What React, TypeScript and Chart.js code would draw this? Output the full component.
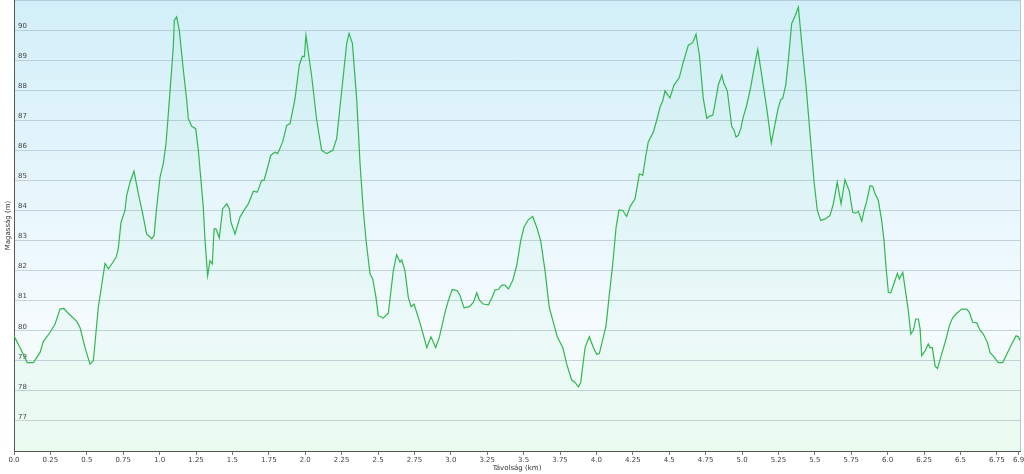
import React, { useEffect, useRef } from "react";
import { Chart, registerables } from "chart.js";

Chart.register(...registerables);

const distanceKm = [
  0.0, 0.041, 0.091, 0.133, 0.179, 0.201, 0.247, 0.282, 0.316, 0.343, 0.373, 0.431, 0.453, 0.488, 0.522, 0.545,
  0.579, 0.625, 0.648, 0.671, 0.701, 0.716, 0.735, 0.762, 0.774, 0.797, 0.824, 0.854, 0.884, 0.911, 0.946, 0.962,
  0.98, 1.003, 1.025, 1.044, 1.067, 1.094, 1.101, 1.117, 1.135, 1.163, 1.186, 1.197, 1.22, 1.248, 1.266, 1.3,
  1.312, 1.33, 1.346, 1.362, 1.374, 1.387, 1.41, 1.433, 1.461, 1.479, 1.49, 1.518, 1.552, 1.587, 1.609, 1.644,
  1.671, 1.701, 1.717, 1.736, 1.763, 1.793, 1.811, 1.845, 1.873, 1.896, 1.93, 1.959, 1.98, 1.994, 2.005, 2.045,
  2.079, 2.113, 2.148, 2.189, 2.216, 2.251, 2.285, 2.301, 2.324, 2.354, 2.376, 2.399, 2.418, 2.445, 2.464, 2.486,
  2.502, 2.536, 2.571, 2.605, 2.628, 2.651, 2.663, 2.685, 2.708, 2.727, 2.747, 2.773, 2.8, 2.835, 2.864, 2.896,
  2.921, 2.96, 2.983, 3.01, 3.045, 3.063, 3.091, 3.127, 3.155, 3.178, 3.196, 3.223, 3.258, 3.281, 3.304, 3.326,
  3.35, 3.372, 3.395, 3.425, 3.453, 3.48, 3.503, 3.532, 3.562, 3.59, 3.617, 3.647, 3.676, 3.704, 3.731, 3.769,
  3.796, 3.83, 3.853, 3.876, 3.892, 3.922, 3.951, 3.979, 4.002, 4.02, 4.047, 4.066, 4.089, 4.112, 4.135, 4.155,
  4.181, 4.208, 4.231, 4.265, 4.295, 4.318, 4.334, 4.356, 4.391, 4.414, 4.437, 4.455, 4.471, 4.505, 4.533, 4.569,
  4.597, 4.631, 4.661, 4.684, 4.707, 4.734, 4.758, 4.775, 4.799, 4.815, 4.837, 4.861, 4.876, 4.899, 4.929, 4.945,
  4.959, 4.975, 4.991, 5.009, 5.032, 5.06, 5.082, 5.108, 5.135, 5.17, 5.201, 5.227, 5.249, 5.266, 5.279, 5.3,
  5.318, 5.341, 5.364, 5.387, 5.41, 5.44, 5.467, 5.495, 5.517, 5.54, 5.57, 5.604, 5.627, 5.654, 5.68, 5.707,
  5.737, 5.76, 5.781, 5.799, 5.822, 5.838, 5.856, 5.879, 5.898, 5.913, 5.936, 5.959, 5.975, 5.989, 6.005, 6.021,
  6.044, 6.067, 6.08, 6.104, 6.126, 6.142, 6.159, 6.177, 6.193, 6.211, 6.223, 6.234, 6.257, 6.279, 6.291, 6.307,
  6.326, 6.342, 6.371, 6.401, 6.424, 6.447, 6.475, 6.509, 6.543, 6.561, 6.584, 6.612, 6.635, 6.657, 6.685, 6.703,
  6.73, 6.76, 6.79, 6.818, 6.852, 6.882, 6.898, 6.909,
];

const elevationM = [
  79.83, 79.44, 78.94, 78.94, 79.28, 79.64, 79.94, 80.22, 80.72, 80.74, 80.58, 80.31, 80.11, 79.44, 78.89, 79.0,
  80.78, 82.24, 82.06, 82.22, 82.44, 82.72, 83.61, 84.0, 84.5, 84.94, 85.31, 84.56, 83.89, 83.22, 83.06, 83.17,
  84.11, 85.11, 85.56, 86.22, 87.67, 89.44, 90.33, 90.44, 90.0, 88.67, 87.67, 87.06, 86.8, 86.72, 86.0, 84.11,
  83.0, 81.83, 82.33, 82.22, 83.39, 83.39, 83.09, 84.06, 84.22, 84.06, 83.61, 83.22, 83.78, 84.06, 84.22, 84.64,
  84.61, 85.0, 85.0, 85.33, 85.83, 85.94, 85.89, 86.28, 86.83, 86.89, 87.72, 88.83, 89.13, 89.11, 89.83, 88.44,
  87.0, 86.0, 85.89, 86.0, 86.39, 88.0, 89.56, 89.89, 89.56, 87.67, 85.6, 84.0, 83.0, 81.89, 81.72, 81.11,
  80.5, 80.42, 80.59, 82.0, 82.53, 82.28, 82.36, 82.0, 81.11, 80.8, 80.89, 80.5, 80.06, 79.44, 79.8, 79.44,
  79.78, 80.61, 81.0, 81.37, 81.33, 81.17, 80.76, 80.8, 80.94, 81.26, 81.02, 80.89, 80.86, 81.08, 81.36, 81.37,
  81.52, 81.52, 81.39, 81.67, 82.17, 83.0, 83.45, 83.69, 83.8, 83.44, 83.0, 82.0, 80.78, 80.28, 79.8, 79.44,
  78.89, 78.36, 78.28, 78.13, 78.28, 79.44, 79.8, 79.44, 79.22, 79.24, 79.78, 80.17, 81.22, 82.22, 83.44, 84.02,
  84.0, 83.8, 84.13, 84.39, 85.22, 85.17, 85.67, 86.28, 86.61, 87.0, 87.44, 87.64, 87.98, 87.74, 88.17, 88.42,
  88.94, 89.5, 89.58, 89.86, 89.17, 87.72, 87.06, 87.13, 87.17, 87.56, 88.17, 88.5, 88.22, 87.98, 86.8, 86.67,
  86.44, 86.5, 86.72, 87.11, 87.5, 88.11, 88.72, 89.36, 88.5, 87.39, 86.24, 86.89, 87.42, 87.69, 87.72, 88.17,
  89.0, 90.22, 90.47, 90.76, 89.56, 88.11, 86.56, 84.94, 84.0, 83.67, 83.72, 83.83, 84.22, 84.94, 84.22, 85.02,
  84.64, 83.94, 83.91, 83.97, 83.64, 84.0, 84.3, 84.82, 84.8, 84.56, 84.33, 83.67, 83.0, 82.11, 81.28, 81.26,
  81.58, 81.91, 81.72, 81.94, 81.22, 80.67, 79.89, 80.02, 80.39, 80.39, 80.06, 79.17, 79.33, 79.56, 79.44, 79.44,
  78.83, 78.74, 79.22, 79.72, 80.17, 80.44, 80.58, 80.72, 80.72, 80.61, 80.28, 80.26, 80.02, 79.89, 79.61, 79.28,
  79.13, 78.94, 78.94, 79.22, 79.56, 79.83, 79.8, 79.67,
];

const xTickValues = [0, 0.25, 0.5, 0.75, 1, 1.25, 1.5, 1.75, 2, 2.25, 2.5, 2.75, 3, 3.25, 3.5, 3.75, 4, 4.25, 4.5, 4.75, 5, 5.25, 5.5, 5.75, 6, 6.25, 6.5, 6.75, 6.9];
const xTickLabels = ["0.0", "0.25", "0.5", "0.75", "1.0", "1.25", "1.5", "1.75", "2.0", "2.25", "2.5", "2.75", "3.0", "3.25", "3.5", "3.75", "4.0", "4.25", "4.5", "4.75", "5.0", "5.25", "5.5", "5.75", "6.0", "6.25", "6.5", "6.75", "6.9"];
const yMin = 76;
const yMax = 91;
const yHiddenLabels = [76, 91];

const xTitle = "Távolság (km)";
const yTitle = "Magasság (m)";

const FONT = "'DejaVu Sans', Verdana, sans-serif";

const backgroundPlugin = {
  id: "plotBackground",
  beforeDraw(chart: any) {
    const { ctx, chartArea } = chart;
    if (!chartArea) return;
    const { left, top, right, bottom } = chartArea;
    const g = ctx.createLinearGradient(0, top, 0, bottom);
    g.addColorStop(0, "#d2eff9");
    g.addColorStop(0.72, "#f5fbfe");
    g.addColorStop(1, "#f3fdf6");
    ctx.save();
    ctx.fillStyle = g;
    ctx.fillRect(left, top, right - left, bottom - top);
    ctx.restore();
  },
  afterDraw(chart: any) {
    const { ctx, chartArea } = chart;
    if (!chartArea) return;
    ctx.save();
    ctx.strokeStyle = "#b9c9d0";
    ctx.lineWidth = 1;
    ctx.beginPath();
    ctx.moveTo(Math.round(chartArea.right) + 0.5, chartArea.top);
    ctx.lineTo(Math.round(chartArea.right) + 0.5, chartArea.bottom);
    ctx.stroke();
    ctx.restore();
  },
};

export default function App() {
  const canvasRef = useRef<HTMLCanvasElement | null>(null);

  useEffect(() => {
    if (!canvasRef.current) return;
    const points = distanceKm.map((d, i) => ({ x: d, y: elevationM[i] }));
    const chart = new Chart(canvasRef.current, {
      type: "line",
      data: {
        datasets: [
          {
            data: points,
            borderColor: "#30b84e",
            borderWidth: 1.2,
            backgroundColor: "rgba(80, 210, 130, 0.05)",
            fill: "start",
            pointRadius: 0,
            tension: 0,
          },
        ],
      },
      plugins: [backgroundPlugin],
      options: {
        animation: false,
        responsive: false,
        layout: { padding: { top: 0, right: 4, bottom: 0, left: 0 } },
        plugins: {
          legend: { display: false },
          tooltip: { enabled: false },
        },
        scales: {
          x: {
            type: "linear",
            min: 0,
            max: distanceKm[distanceKm.length - 1],
            afterBuildTicks: (scale: any) => {
              scale.ticks = xTickValues.map((v) => ({ value: v }));
            },
            afterFit: (scale: any) => {
              scale.height = 23;
              scale.paddingLeft = 0;
              scale.paddingRight = 0;
            },
            grid: {
              drawOnChartArea: false,
              drawTicks: true,
              tickLength: 4,
              tickColor: "#777",
            },
            border: { color: "#555", width: 1 },
            ticks: {
              autoSkip: false,
              maxRotation: 0,
              padding: 1,
              color: "#444",
              font: { family: FONT, size: 7 },
              callback: (_v: any, i: number) => xTickLabels[i],
            },
            title: {
              display: true,
              text: xTitle,
              color: "#333",
              font: { family: FONT, size: 7 },
              padding: { top: 0, bottom: 2 },
            },
          },
          y: {
            type: "linear",
            min: yMin,
            max: yMax,
            afterFit: (scale: any) => {
              scale.width = 14;
              scale.paddingTop = 0;
              scale.paddingBottom = 0;
            },
            grid: {
              color: "rgba(150, 172, 184, 0.5)",
              drawTicks: false,
            },
            border: { color: "#555", width: 1 },
            ticks: {
              stepSize: 1,
              mirror: true,
              padding: 4,
              labelOffset: -4,
              color: "#444",
              font: { family: FONT, size: 7 },
              callback: (v: any) => (yHiddenLabels.includes(v) ? "" : String(v)),
            },
            title: {
              display: true,
              text: yTitle,
              color: "#333",
              font: { family: FONT, size: 7 },
              padding: { top: 4, bottom: 0 },
            },
          },
        },
      },
    });
    return () => chart.destroy();
  }, []);

  return (
    <div style={{ position: "absolute", left: 0, top: 0, width: 1024, height: 474, background: "#fff" }}>
      <canvas ref={canvasRef} width={1024} height={474} style={{ display: "block" }} />
    </div>
  );
}
